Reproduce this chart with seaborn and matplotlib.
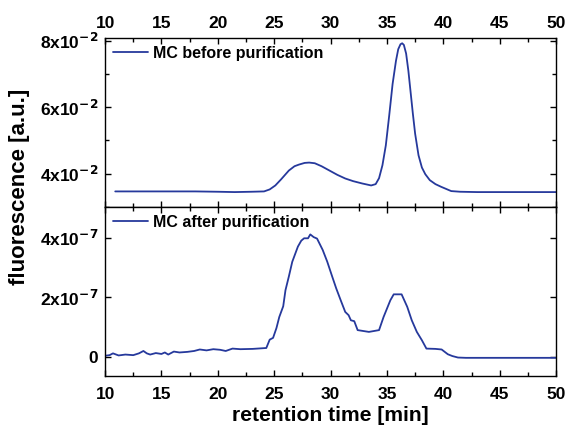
import numpy as np
import pandas as pd
import seaborn as sns
import matplotlib.pyplot as plt
from matplotlib.ticker import MultipleLocator, FixedLocator

# MC before purification (retention time [min], fluorescence in 1e-2)
before_x = [10.9, 12, 14, 16, 18, 20, 21.5, 23, 24.1, 24.6, 25.1, 25.6, 26.3, 26.8, 27.2,
            27.7, 28.1, 28.6, 29.2, 29.9, 30.6, 31.3, 32.0, 32.8, 33.6, 34.0, 34.3, 34.6,
            34.9, 35.2, 35.5, 35.8, 36.0, 36.2, 36.35, 36.5, 36.7, 36.9, 37.1, 37.3, 37.5,
            37.8, 38.1, 38.4, 38.8, 39.3, 39.8, 40.7, 41.5, 43, 45, 50]
before_y = [3.46, 3.46, 3.46, 3.46, 3.46, 3.45, 3.44, 3.45, 3.46, 3.52, 3.64, 3.82, 4.09, 4.22,
            4.27, 4.32, 4.33, 4.31, 4.22, 4.09, 3.96, 3.85, 3.77, 3.70, 3.64, 3.68, 3.86, 4.25,
            4.85, 5.75, 6.70, 7.40, 7.75, 7.90, 7.93, 7.88, 7.62, 7.10, 6.45, 5.80, 5.20,
            4.55, 4.18, 3.98, 3.80, 3.68, 3.60, 3.47, 3.45, 3.44, 3.44, 3.44]

# MC after purification (fluorescence in 1e-7)
after_x = [10.0, 10.4, 10.7, 11.2, 11.8, 12.5, 13.0, 13.4, 13.7, 14.0, 14.5, 15.0, 15.3,
           15.6, 16.1, 16.6, 17.3, 17.9, 18.4, 19.0, 19.6, 20.2, 20.7, 21.3, 22.0, 23.1,
           24.3, 24.6, 24.9, 25.2, 25.45, 25.8, 26.0, 26.3, 26.6, 27.1, 27.4, 27.65, 28.0,
           28.2, 28.5, 28.8, 29.3, 29.7, 30.15, 30.5, 30.9, 31.3, 31.6, 31.8, 32.1, 32.4,
           33.4, 34.3, 34.7, 35.3, 35.6, 36.3, 36.8, 37.2, 37.65, 38.1, 38.5, 39.3, 39.85,
           40.4, 40.8, 41.3, 42, 45, 50]
after_y = [0.04, 0.06, 0.12, 0.05, 0.08, 0.06, 0.12, 0.20, 0.12, 0.08, 0.13, 0.10, 0.15,
           0.08, 0.18, 0.15, 0.17, 0.20, 0.25, 0.22, 0.26, 0.24, 0.20, 0.28, 0.26, 0.27,
           0.30, 0.58, 0.64, 0.97, 1.34, 1.70, 2.24, 2.70, 3.19, 3.70, 3.90, 3.98, 3.98,
           4.11, 4.02, 3.97, 3.59, 3.20, 2.69, 2.30, 1.90, 1.51, 1.40, 1.23, 1.20, 0.90,
           0.84, 0.90, 1.34, 1.90, 2.10, 2.10, 1.68, 1.23, 0.84, 0.56, 0.28, 0.27, 0.25,
           0.09, 0.03, -0.02, -0.03, -0.03, -0.03]

df_before = pd.DataFrame({"t": before_x, "f": np.array(before_y) * 1e-2})
df_after = pd.DataFrame({"t": after_x, "f": np.array(after_y) * 1e-7})

sns.set_style("ticks")
plt.rcParams['font.family'] = ['Liberation Sans', 'DejaVu Sans']
plt.rcParams['font.weight'] = 'bold'
plt.rcParams['mathtext.default'] = 'bf'
plt.rcParams['text.color'] = 'black'

color = "#26399c"
fig = plt.figure(figsize=(5.68, 4.29), dpi=100)
ax1 = fig.add_axes([0.185, 0.5175, 0.794, 0.394])
ax2 = fig.add_axes([0.185, 0.1235, 0.794, 0.394])

sns.lineplot(data=df_before, x="t", y="f", ax=ax1, color=color, lw=1.3,
             label="MC before purification")
sns.lineplot(data=df_after, x="t", y="f", ax=ax2, color=color, lw=1.3,
             label="MC after purification")

ax1.set_ylim(0.0299, 0.0809)
ax1.yaxis.set_major_locator(FixedLocator([0.04, 0.06, 0.08]))
ax1.yaxis.set_minor_locator(FixedLocator([0.03, 0.05, 0.07]))
ax1.set_yticklabels([r"4x10$^{-2}$", r"6x10$^{-2}$", r"8x10$^{-2}$"])

ax2.set_ylim(-0.64e-7, 5.03e-7)
ax2.yaxis.set_major_locator(FixedLocator([0, 2e-7, 4e-7]))
ax2.yaxis.set_minor_locator(FixedLocator([]))
ax2.set_yticklabels(["0", r"2x10$^{-7}$", r"4x10$^{-7}$"])

for ax in (ax1, ax2):
    ax.set_xlim(10, 50)
    ax.xaxis.set_major_locator(MultipleLocator(5))
    ax.xaxis.set_minor_locator(MultipleLocator(2.5))
    for s in ax.spines.values():
        s.set_linewidth(1.0)
        s.set_color("black")
    ax.set_xlabel("")
    ax.set_ylabel("")
    leg = ax.legend(loc="upper left", frameon=False, fontsize=11.5, handlelength=2.2,
                    borderaxespad=0.1, handletextpad=0.3)
    for t in leg.get_texts():
        t.set_fontweight("bold")
        t.set_color("black")

ax2.set_xlabel("retention time [min]", fontsize=15.2, fontweight="bold", labelpad=3,
               color="black")

fig.text(0.034, 0.564, "fluorescence [a.u.]", rotation=90, fontsize=16,
         fontweight="bold", ha="center", va="center", color="black")

for ax in (ax1, ax2):
    for lab in ax.get_xticklabels() + ax.get_yticklabels():
        lab.set_fontweight("bold")
    ax.tick_params(which="both", direction="in", top=True, right=True,
                   color="black", labelcolor="black", width=1.0, labelsize=12.5)
    ax.tick_params(which="major", length=4.5, pad=5)
    ax.tick_params(which="minor", length=3)
ax2.tick_params(axis="x", pad=8)
ax1.tick_params(axis="x", labeltop=True, labelbottom=False)

fig.savefig("out.png", dpi=100)
